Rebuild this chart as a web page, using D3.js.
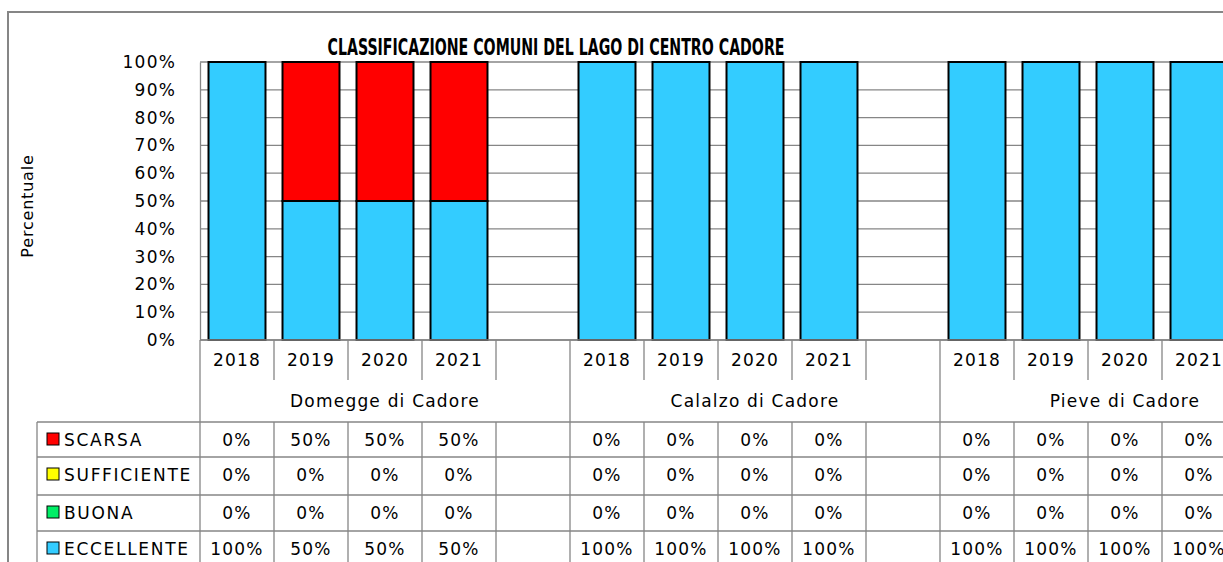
<!DOCTYPE html>
<html>
<head>
<meta charset="utf-8">
<script src="https://cdn.jsdelivr.net/npm/d3@7"></script>
<style>
  body { margin: 0; background: #fff; overflow: hidden; }
  text { font-family: "DejaVu Sans", sans-serif; fill: #000; }
</style>
</head>
<body>
<div id="vis"></div>
<script>
// chart data
const COMMUNES = ["Domegge di Cadore", "Calalzo di Cadore", "Pieve di Cadore"];
const YEARS = ["2018", "2019", "2020", "2021"];
const CLASSES = ["SCARSA", "SUFFICIENTE", "BUONA", "ECCELLENTE"];
const COLORS = ["#ff0000", "#ffff00", "#00ee66", "#33ccff"];

// values per commune/year, in the order Domegge 2018..2021, Calalzo 2018..2021, Pieve 2018..2021
const SCARSA = [0, 50, 50, 50, 0, 0, 0, 0, 0, 0, 0, 0];
const SUFFICIENTE = [0, 0, 0, 0, 0, 0, 0, 0, 0, 0, 0, 0];
const BUONA = [0, 0, 0, 0, 0, 0, 0, 0, 0, 0, 0, 0];
const ECCELLENTE = [100, 50, 50, 50, 100, 100, 100, 100, 100, 100, 100, 100];

const Y_TICKS = [0, 10, 20, 30, 40, 50, 60, 70, 80, 90, 100];

const WIDTH = 1223, HEIGHT = 562;
const PLOT = {left: 200, top: 62, bottom: 340};
const SLOT = 74;
const GRAY = "#868686";

// build rows: one per year slot, plus an empty slot after each commune
const rows = [];
const slots = [];
COMMUNES.forEach((c, ci) => {
  YEARS.forEach((y, yi) => {
    const i = ci * YEARS.length + yi;
    const key = c + "|" + y;
    slots.push(key);
    rows.push({key: key, commune: c, year: y,
      SCARSA: SCARSA[i], SUFFICIENTE: SUFFICIENTE[i], BUONA: BUONA[i], ECCELLENTE: ECCELLENTE[i]});
  });
  slots.push(c + "|gap");
});

const svg = d3.select("#vis").append("svg")
  .attr("width", WIDTH).attr("height", HEIGHT);

const X = d3.scaleBand().domain(slots)
  .range([PLOT.left, PLOT.left + slots.length * SLOT]).padding(0);
const Y = d3.scaleLinear().domain([0, 100]).range([PLOT.bottom, PLOT.top]);
const BAR_W = X.bandwidth() * 0.77;

// outer frame
svg.append("rect")
  .attr("x", 8).attr("y", 12).attr("width", 1400).attr("height", 700)
  .attr("fill", "none").attr("stroke", GRAY).attr("stroke-width", 2);

// title
svg.append("text")
  .attr("x", 556).attr("y", 55)
  .attr("text-anchor", "middle")
  .attr("textLength", 457).attr("lengthAdjust", "spacingAndGlyphs")
  .style("font-family", "'Liberation Sans Narrow', 'DejaVu Sans Condensed', sans-serif")
  .style("font-weight", "bold").style("font-size", "23px")
  .text("CLASSIFICAZIONE COMUNI DEL LAGO DI CENTRO CADORE");

// gridlines
svg.append("g").selectAll("line").data(Y_TICKS).enter().append("line")
  .attr("x1", PLOT.left).attr("x2", WIDTH + 100)
  .attr("y1", d => Y(d)).attr("y2", d => Y(d))
  .attr("stroke", GRAY).attr("stroke-width", 1.3);

// y axis
const yAxis = svg.append("g")
  .attr("transform", "translate(" + PLOT.left + ",0)")
  .call(d3.axisLeft(Y).tickValues(Y_TICKS).tickSize(0).tickPadding(24)
    .tickFormat(d => d + "%"));
yAxis.select(".domain").attr("stroke", GRAY).attr("stroke-width", 1.3);
yAxis.selectAll("text")
  .style("font-size", "17px").style("letter-spacing", "1.2px")
  .style("font-family", "'DejaVu Sans', sans-serif").attr("fill", "#000");

svg.append("text")
  .attr("transform", "translate(33,206) rotate(-90)")
  .attr("text-anchor", "middle")
  .style("font-size", "16px").style("letter-spacing", "0.8px")
  .text("Percentuale");

// stacked bars (bottom ECCELLENTE up to SCARSA on top)
const stackKeys = CLASSES.slice().reverse();
const stacked = d3.stack().keys(stackKeys)(rows);
svg.append("g").selectAll("g").data(stacked).enter().append("g")
  .attr("fill", d => COLORS[CLASSES.indexOf(d.key)])
  .selectAll("rect").data(d => d.filter(s => s[1] - s[0] > 0)).enter().append("rect")
    .attr("x", d => X(d.data.key) + (X.bandwidth() - BAR_W) / 2)
    .attr("y", d => Y(d[1]))
    .attr("width", BAR_W)
    .attr("height", d => Y(d[0]) - Y(d[1]))
    .attr("stroke", "#000").attr("stroke-width", 2);

// data table below the plot
const TABLE_LEFT = 37;
const YEAR_ROW = [340, 380];
const GROUP_ROW = [380, 422];
const ROW_TOP = [422, 457, 495, 531];
const table = svg.append("g");

// x axis line
table.append("line")
  .attr("x1", PLOT.left).attr("x2", WIDTH + 100)
  .attr("y1", PLOT.bottom).attr("y2", PLOT.bottom)
  .attr("stroke", GRAY).attr("stroke-width", 1.3);

// slot dividers in the year row and in value rows
table.selectAll(".slotline").data(slots).enter().append("line")
  .attr("x1", d => X(d)).attr("x2", d => X(d))
  .attr("y1", YEAR_ROW[0]).attr("y2", YEAR_ROW[1])
  .attr("stroke", GRAY).attr("stroke-width", 1.3);
table.selectAll(".slotline2").data(slots).enter().append("line")
  .attr("x1", d => X(d)).attr("x2", d => X(d))
  .attr("y1", ROW_TOP[0]).attr("y2", HEIGHT + 10)
  .attr("stroke", GRAY).attr("stroke-width", 1.3);

// commune dividers across the group row
table.selectAll(".groupline").data(COMMUNES).enter().append("line")
  .attr("x1", d => X(d + "|2018")).attr("x2", d => X(d + "|2018"))
  .attr("y1", GROUP_ROW[0]).attr("y2", GROUP_ROW[1])
  .attr("stroke", GRAY).attr("stroke-width", 1.3);

// horizontal row lines
table.selectAll(".rowline").data(ROW_TOP).enter().append("line")
  .attr("x1", TABLE_LEFT).attr("x2", WIDTH + 100)
  .attr("y1", d => d).attr("y2", d => d)
  .attr("stroke", GRAY).attr("stroke-width", 1.3);
table.append("line")
  .attr("x1", TABLE_LEFT).attr("x2", TABLE_LEFT)
  .attr("y1", ROW_TOP[0]).attr("y2", HEIGHT + 10)
  .attr("stroke", GRAY).attr("stroke-width", 1.3);

// year labels
table.selectAll(".year").data(rows).enter().append("text")
  .attr("x", d => X(d.key) + X.bandwidth() / 2)
  .attr("y", 366)
  .attr("text-anchor", "middle")
  .style("font-size", "17px").style("letter-spacing", "1.2px")
  .text(d => d.year);

// commune labels
table.selectAll(".commune").data(COMMUNES).enter().append("text")
  .attr("x", d => X(d + "|2018") + 2.5 * SLOT)
  .attr("y", 407)
  .attr("text-anchor", "middle")
  .style("font-size", "17px").style("letter-spacing", "1.2px")
  .text(d => d);

// legend column
const legend = table.selectAll(".legend").data(CLASSES).enter().append("g")
  .attr("transform", (d, i) => "translate(0," + ROW_TOP[i] + ")");
legend.append("rect")
  .attr("x", 47).attr("y", 11).attr("width", 12).attr("height", 12)
  .attr("fill", (d, i) => COLORS[i]).attr("stroke", "#000").attr("stroke-width", 1);
legend.append("text")
  .attr("x", 64).attr("y", 24)
  .style("font-size", "17px").style("letter-spacing", "1.7px")
  .text(d => d);

// values
const SERIES = [SCARSA, SUFFICIENTE, BUONA, ECCELLENTE];
SERIES.forEach((vals, si) => {
  table.selectAll(".val" + si).data(rows).enter().append("text")
    .attr("x", d => X(d.key) + X.bandwidth() / 2)
    .attr("y", ROW_TOP[si] + 24)
    .attr("text-anchor", "middle")
    .style("font-size", "17px").style("letter-spacing", "1.2px")
    .text((d, i) => vals[i] + "%");
});
</script>
</body>
</html>
